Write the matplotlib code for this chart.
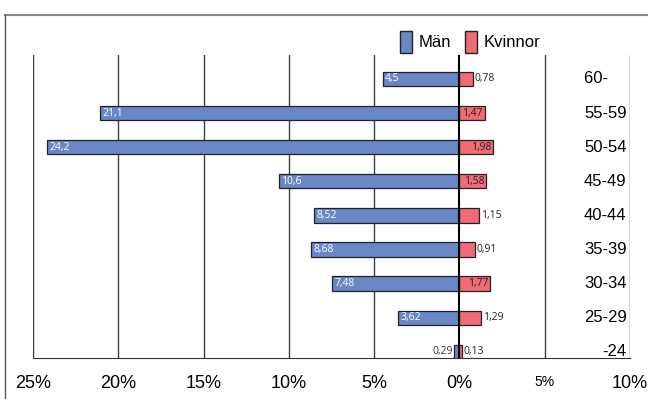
import matplotlib.pyplot as plt
from matplotlib.patches import Patch
from matplotlib.lines import Line2D
import numpy as np

plt.rcParams['font.family'] = ['Liberation Sans Narrow', 'Liberation Sans', 'DejaVu Sans']

# Age groups, bottom to top
groups = ["-24", "25-29", "30-34", "35-39", "40-44", "45-49", "50-54", "55-59", "60-"]
man = [0.29, 3.62, 7.48, 8.68, 8.52, 10.6, 24.2, 21.1, 4.5]
kvinnor = [0.13, 1.29, 1.77, 0.91, 1.15, 1.58, 1.98, 1.47, 0.78]

blue = "#6987c6"
red = "#f06b76"

fig = plt.figure(figsize=(6.48, 3.99), dpi=100)
ax = fig.add_axes([33 / 648, 1 - 358 / 399, (630 - 33) / 648, (358 - 55) / 399])

y = np.arange(len(groups))
h = 0.42
ax.barh(y, -np.array(man), height=h, color=blue, edgecolor="#222222", lw=0.9, zorder=3)
ax.barh(y, kvinnor, height=h, color=red, edgecolor="#222222", lw=0.9, zorder=3)

def fmt(v):
    return f"{v:g}".replace(".", ",")

lab_font = ['Open Sans', 'DejaVu Sans']
for yi, v in zip(y, man):
    if v >= 1:
        ax.text(-v + 0.15, yi, fmt(v), color="white", fontsize=7.5, va="center",
                ha="left", family=lab_font, zorder=4)
    else:
        ax.text(-v - 0.12, yi, fmt(v), color="#333333", fontsize=7.5, va="center",
                ha="right", family=lab_font, zorder=4)
for yi, v in zip(y, kvinnor):
    if v > 1.4:
        ax.text(v - 0.1, yi, fmt(v), color="#222222", fontsize=7.5, va="center",
                ha="right", family=lab_font, zorder=4)
    else:
        ax.text(v + 0.12, yi, fmt(v), color="#222222", fontsize=7.5, va="center",
                ha="left", family=lab_font, zorder=4)

# group labels on the right
for yi, g in zip(y, groups):
    ax.text(9.8, yi, g + ("\u2007\u2007" if g == "60-" else ""), fontsize=12,
            va="center", ha="right", zorder=4)

ax.set_xlim(-25, 10)
ax.set_ylim(-0.18, 8.7)
for x in range(-25, 11, 5):
    if x == 0:
        ax.axvline(x, color="black", lw=1.5, zorder=5)
    else:
        ax.axvline(x, color="#404040", lw=1, zorder=1)

ticks = list(range(-25, 11, 5))
ax.set_xticks(ticks)
ax.set_xticklabels(["25%", "20%", "15%", "10%", "5%", "0%", "5%", "10%"], fontsize=13)
ax.get_xticklabels()[6].set_fontsize(10)
ax.tick_params(axis="x", length=0, pad=12)
ax.set_yticks([])
for s in ["left", "right", "top"]:
    ax.spines[s].set_visible(False)
ax.spines["bottom"].set_color("#333333")

handles = [Patch(facecolor=blue, edgecolor="#222222"), Patch(facecolor=red, edgecolor="#222222")]
fig.legend(handles, ["Män", "Kvinnor"], loc="center", bbox_to_anchor=(470 / 648, 1 - 42 / 399),
           ncol=2, frameon=False, fontsize=12, handlelength=0.75, handleheight=1.7,
           handletextpad=0.4, columnspacing=0.8)

# outer frame (top and left edges)
fig.add_artist(Line2D([5 / 648, 1], [1 - 15 / 399, 1 - 15 / 399], color="#888888", lw=1.5))
fig.add_artist(Line2D([5 / 648, 5 / 648], [0, 1 - 15 / 399], color="#555555", lw=1))

fig.savefig("out.png", dpi=100)
